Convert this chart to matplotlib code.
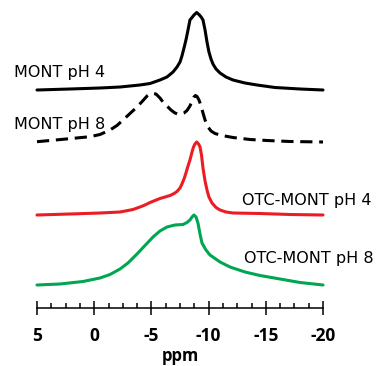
import numpy as np
import matplotlib.pyplot as plt

plt.rcParams['axes.unicode_minus'] = False

# chemical shift (ppm) and intensity
ppm_mont4 = [5, 2.12, -0.51, -2.26, -4.0, -4.88, -5.75, -6.36, -6.89, -7.24, -7.5, -7.67,
             -7.85, -8.02, -8.2, -8.37, -8.55, -8.72, -8.96, -9.2, -9.38, -9.51, -9.69,
             -9.86, -10.03, -10.21, -10.38, -10.65, -11.0, -11.52, -12.13, -13.18, -14.23,
             -15.8, -17.99, -20]
int_mont4 = [0, 1, 2, 3, 5, 6.5, 10, 13, 18, 23, 28, 34,
             42, 50, 60, 70, 72.5, 75, 77.5, 75, 72.5, 70, 60,
             48, 38, 31, 26, 21, 17, 13, 10, 7, 5,
             2.5, 1, 0]

ppm_mont8 = [5, 2.73, 0.37, -0.51, -1.38, -1.99, -2.52, -3.13, -3.74, -4.27, -4.62, -4.88,
             -5.14, -5.4, -5.75, -6.01, -6.36, -6.71, -7.06, -7.33, -7.59, -7.85, -8.11,
             -8.37, -8.55, -8.72, -8.85, -8.99, -9.16, -9.34, -9.51, -9.69, -9.95, -10.21,
             -10.56, -11.17, -12.13, -13.62, -15.1, -17.12, -20]
int_mont8 = [0.3, 2.7, 5.3, 7.5, 12, 16.5, 22, 28.5, 35, 41.5, 46, 48,
             48.5, 48, 44, 40, 36, 32, 29, 28, 28, 29, 31.5,
             36, 41, 45, 46.5, 45.5, 42, 36, 29, 22, 15, 11,
             8.5, 6.5, 4.5, 2.5, 1.5, 0.5, 0]

ppm_otc4 = [5, 2.12, -0.51, -2.26, -3.39, -4.0, -4.44, -4.88, -5.31, -5.75, -6.19, -6.63,
            -6.98, -7.24, -7.5, -7.67, -7.85, -8.02, -8.2, -8.37, -8.55, -8.68, -8.81,
            -8.96, -9.12, -9.25, -9.38, -9.51, -9.69, -9.86, -10.03, -10.3, -10.65, -11.0,
            -11.52, -12.13, -14.49, -17.12, -20]
int_otc4 = [0, 1, 2, 3, 5.5, 8, 10, 12.5, 14.5, 16.5, 18, 19.5,
            21.5, 23.5, 27, 31, 36, 42, 49, 55, 63, 68, 71,
            73, 71, 68, 60, 47, 34, 25, 18, 12, 7.5, 5,
            3, 2, 1.5, 0.5, 0]

ppm_otc8 = [5, 2.99, 0.98, -0.51, -1.38, -2.26, -2.95, -3.74, -4.44, -5.14, -5.75, -6.36,
            -7.06, -7.76, -8.11, -8.37, -8.55, -8.72, -8.9, -9.07, -9.25, -9.42, -9.77,
            -10.12, -11.0, -11.87, -13.18, -14.49, -16.24, -17.99, -20]
int_otc8 = [0, 1, 3.5, 7, 10.5, 16, 22, 31, 39.5, 48, 54, 58,
            60, 60.5, 62.5, 65, 68, 70, 68, 62, 51, 42, 35,
            30, 23, 18, 13, 9.5, 6, 2.5, 0]

offsets = [218, 166, 93, 23]
labels = ["MONT pH 4", "MONT pH 8", "OTC-MONT pH 4", "OTC-MONT pH 8"]

fig = plt.figure(figsize=(3.76, 3.66), dpi=100)
ax = fig.add_axes([37/376, 58/366, 286/376, 308/366])

lw = 2.2
ax.plot(ppm_mont4, np.array(int_mont4) + offsets[0], color='black', lw=lw,
        solid_joinstyle='round', solid_capstyle='round', clip_on=False)
ax.plot(ppm_mont8, np.array(int_mont8) + offsets[1], color='black', lw=lw,
        linestyle=(0, (4, 2.2)), dash_joinstyle='round', clip_on=False)
ax.plot(ppm_otc4, np.array(int_otc4) + offsets[2], color='#ED1C24', lw=lw,
        solid_joinstyle='round', solid_capstyle='round', clip_on=False)
ax.plot(ppm_otc8, np.array(int_otc8) + offsets[3], color='#00A651', lw=lw,
        solid_joinstyle='round', solid_capstyle='round', clip_on=False)

ax.set_xlim(5, -20)
ax.set_ylim(0, 308)
ax.set_xticks([5, 0, -5, -10, -15, -20])
ax.set_xticks(np.arange(5, -20.1, -1.25), minor=True)
ax.set_yticks([])
for s in ['left', 'right', 'top']:
    ax.spines[s].set_visible(False)
ax.spines['bottom'].set_linewidth(1.1)
ax.tick_params(axis='x', which='major', direction='inout', length=10, width=1.1, pad=9)
ax.tick_params(axis='x', which='minor', direction='in', length=3.8, width=1.1)
for t in ax.get_xticklabels():
    t.set_fontfamily('Open Sans')
    t.set_fontweight('bold')
    t.set_fontsize(12.5)
ax.set_xlabel('ppm', fontfamily='Open Sans', fontweight='bold', fontsize=12, labelpad=1)

tr = fig.dpi_scale_trans
px = lambda x, y: (x / 100, (366 - y) / 100)
fig.text(*px(14, 72), labels[0], transform=tr, fontsize=11.5, va='center', ha='left')
fig.text(*px(14, 125), labels[1], transform=tr, fontsize=11.5, va='center', ha='left')
fig.text(*px(372, 200), labels[2], transform=tr, fontsize=11.5, va='center', ha='right')
fig.text(*px(374, 258), labels[3], transform=tr, fontsize=11.5, va='center', ha='right')

fig.savefig('out.png', dpi=100)
